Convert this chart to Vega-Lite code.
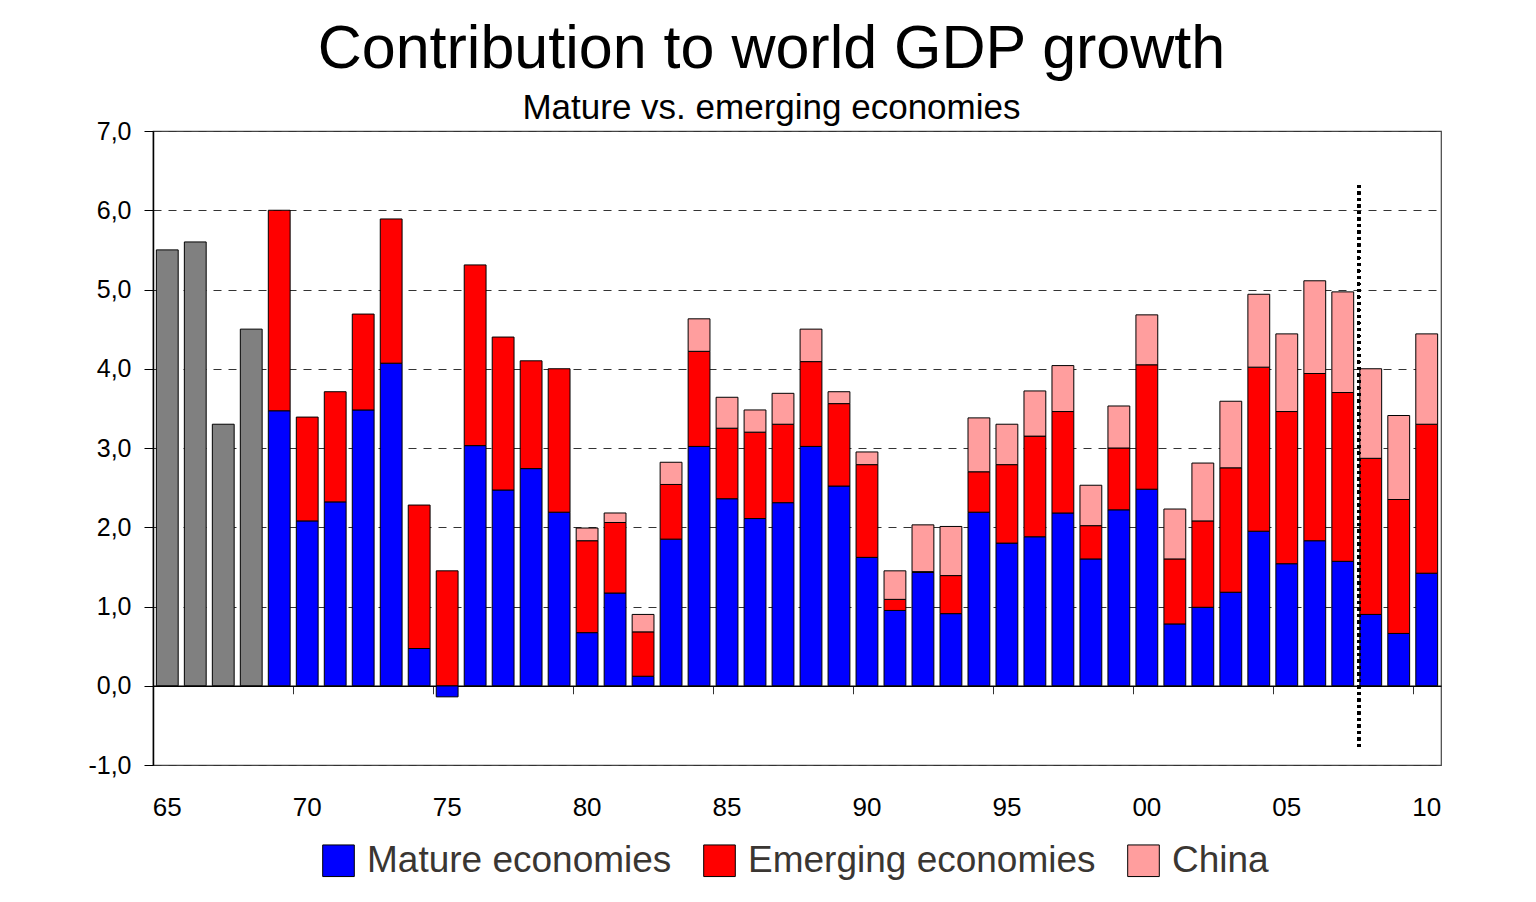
{
  "$schema": "https://vega.github.io/schema/vega-lite/v6.json",
  "width": 1288,
  "height": 634,
  "padding": {"left": 87, "top": 19, "right": 90, "bottom": 10},
  "background": "white",
  "title": {
    "text": "Contribution to world GDP growth",
    "subtitle": "Mature vs. emerging economies",
    "font": "Liberation Sans",
    "subtitleFont": "Liberation Sans",
    "fontSize": 61,
    "subtitleFontSize": 35,
    "fontWeight": "normal",
    "color": "black",
    "subtitleColor": "black",
    "subtitlePadding": 10,
    "anchor": "middle",
    "frame": "bounds",
    "offset": -8,
    "dx": 7
  },
  "data": {
    "values": [
      {"year": "1965", "series": "Total", "value": 5.50, "ord": 0},
      {"year": "1966", "series": "Total", "value": 5.60, "ord": 0},
      {"year": "1967", "series": "Total", "value": 3.30, "ord": 0},
      {"year": "1968", "series": "Total", "value": 4.50, "ord": 0},
      {"year": "1969", "series": "Mature economies", "value": 3.47, "ord": 1},
      {"year": "1969", "series": "Emerging economies", "value": 2.53, "ord": 2},
      {"year": "1970", "series": "Mature economies", "value": 2.08, "ord": 1},
      {"year": "1970", "series": "Emerging economies", "value": 1.31, "ord": 2},
      {"year": "1971", "series": "Mature economies", "value": 2.32, "ord": 1},
      {"year": "1971", "series": "Emerging economies", "value": 1.39, "ord": 2},
      {"year": "1972", "series": "Mature economies", "value": 3.48, "ord": 1},
      {"year": "1972", "series": "Emerging economies", "value": 1.21, "ord": 2},
      {"year": "1973", "series": "Mature economies", "value": 4.07, "ord": 1},
      {"year": "1973", "series": "Emerging economies", "value": 1.82, "ord": 2},
      {"year": "1974", "series": "Mature economies", "value": 0.47, "ord": 1},
      {"year": "1974", "series": "Emerging economies", "value": 1.81, "ord": 2},
      {"year": "1975", "series": "Mature economies", "value": -0.14, "ord": 1},
      {"year": "1975", "series": "Emerging economies", "value": 1.45, "ord": 2},
      {"year": "1976", "series": "Mature economies", "value": 3.03, "ord": 1},
      {"year": "1976", "series": "Emerging economies", "value": 2.28, "ord": 2},
      {"year": "1977", "series": "Mature economies", "value": 2.47, "ord": 1},
      {"year": "1977", "series": "Emerging economies", "value": 1.93, "ord": 2},
      {"year": "1978", "series": "Mature economies", "value": 2.74, "ord": 1},
      {"year": "1978", "series": "Emerging economies", "value": 1.36, "ord": 2},
      {"year": "1979", "series": "Mature economies", "value": 2.19, "ord": 1},
      {"year": "1979", "series": "Emerging economies", "value": 1.81, "ord": 2},
      {"year": "1980", "series": "Mature economies", "value": 0.67, "ord": 1},
      {"year": "1980", "series": "Emerging economies", "value": 1.16, "ord": 2},
      {"year": "1980", "series": "China", "value": 0.16, "ord": 3},
      {"year": "1981", "series": "Mature economies", "value": 1.17, "ord": 1},
      {"year": "1981", "series": "Emerging economies", "value": 0.89, "ord": 2},
      {"year": "1981", "series": "China", "value": 0.12, "ord": 3},
      {"year": "1982", "series": "Mature economies", "value": 0.12, "ord": 1},
      {"year": "1982", "series": "Emerging economies", "value": 0.56, "ord": 2},
      {"year": "1982", "series": "China", "value": 0.22, "ord": 3},
      {"year": "1983", "series": "Mature economies", "value": 1.85, "ord": 1},
      {"year": "1983", "series": "Emerging economies", "value": 0.69, "ord": 2},
      {"year": "1983", "series": "China", "value": 0.28, "ord": 3},
      {"year": "1984", "series": "Mature economies", "value": 3.02, "ord": 1},
      {"year": "1984", "series": "Emerging economies", "value": 1.20, "ord": 2},
      {"year": "1984", "series": "China", "value": 0.41, "ord": 3},
      {"year": "1985", "series": "Mature economies", "value": 2.36, "ord": 1},
      {"year": "1985", "series": "Emerging economies", "value": 0.89, "ord": 2},
      {"year": "1985", "series": "China", "value": 0.39, "ord": 3},
      {"year": "1986", "series": "Mature economies", "value": 2.11, "ord": 1},
      {"year": "1986", "series": "Emerging economies", "value": 1.09, "ord": 2},
      {"year": "1986", "series": "China", "value": 0.28, "ord": 3},
      {"year": "1987", "series": "Mature economies", "value": 2.31, "ord": 1},
      {"year": "1987", "series": "Emerging economies", "value": 0.99, "ord": 2},
      {"year": "1987", "series": "China", "value": 0.39, "ord": 3},
      {"year": "1988", "series": "Mature economies", "value": 3.02, "ord": 1},
      {"year": "1988", "series": "Emerging economies", "value": 1.07, "ord": 2},
      {"year": "1988", "series": "China", "value": 0.41, "ord": 3},
      {"year": "1989", "series": "Mature economies", "value": 2.52, "ord": 1},
      {"year": "1989", "series": "Emerging economies", "value": 1.04, "ord": 2},
      {"year": "1989", "series": "China", "value": 0.15, "ord": 3},
      {"year": "1990", "series": "Mature economies", "value": 1.62, "ord": 1},
      {"year": "1990", "series": "Emerging economies", "value": 1.17, "ord": 2},
      {"year": "1990", "series": "China", "value": 0.16, "ord": 3},
      {"year": "1991", "series": "Mature economies", "value": 0.95, "ord": 1},
      {"year": "1991", "series": "Emerging economies", "value": 0.14, "ord": 2},
      {"year": "1991", "series": "China", "value": 0.36, "ord": 3},
      {"year": "1992", "series": "Mature economies", "value": 1.43, "ord": 1},
      {"year": "1992", "series": "Emerging economies", "value": 0.01, "ord": 2},
      {"year": "1992", "series": "China", "value": 0.59, "ord": 3},
      {"year": "1993", "series": "Mature economies", "value": 0.91, "ord": 1},
      {"year": "1993", "series": "Emerging economies", "value": 0.48, "ord": 2},
      {"year": "1993", "series": "China", "value": 0.62, "ord": 3},
      {"year": "1994", "series": "Mature economies", "value": 2.19, "ord": 1},
      {"year": "1994", "series": "Emerging economies", "value": 0.51, "ord": 2},
      {"year": "1994", "series": "China", "value": 0.68, "ord": 3},
      {"year": "1995", "series": "Mature economies", "value": 1.80, "ord": 1},
      {"year": "1995", "series": "Emerging economies", "value": 0.99, "ord": 2},
      {"year": "1995", "series": "China", "value": 0.51, "ord": 3},
      {"year": "1996", "series": "Mature economies", "value": 1.88, "ord": 1},
      {"year": "1996", "series": "Emerging economies", "value": 1.27, "ord": 2},
      {"year": "1996", "series": "China", "value": 0.57, "ord": 3},
      {"year": "1997", "series": "Mature economies", "value": 2.18, "ord": 1},
      {"year": "1997", "series": "Emerging economies", "value": 1.28, "ord": 2},
      {"year": "1997", "series": "China", "value": 0.58, "ord": 3},
      {"year": "1998", "series": "Mature economies", "value": 1.60, "ord": 1},
      {"year": "1998", "series": "Emerging economies", "value": 0.42, "ord": 2},
      {"year": "1998", "series": "China", "value": 0.51, "ord": 3},
      {"year": "1999", "series": "Mature economies", "value": 2.22, "ord": 1},
      {"year": "1999", "series": "Emerging economies", "value": 0.78, "ord": 2},
      {"year": "1999", "series": "China", "value": 0.53, "ord": 3},
      {"year": "2000", "series": "Mature economies", "value": 2.48, "ord": 1},
      {"year": "2000", "series": "Emerging economies", "value": 1.57, "ord": 2},
      {"year": "2000", "series": "China", "value": 0.63, "ord": 3},
      {"year": "2001", "series": "Mature economies", "value": 0.78, "ord": 1},
      {"year": "2001", "series": "Emerging economies", "value": 0.82, "ord": 2},
      {"year": "2001", "series": "China", "value": 0.63, "ord": 3},
      {"year": "2002", "series": "Mature economies", "value": 0.99, "ord": 1},
      {"year": "2002", "series": "Emerging economies", "value": 1.09, "ord": 2},
      {"year": "2002", "series": "China", "value": 0.73, "ord": 3},
      {"year": "2003", "series": "Mature economies", "value": 1.18, "ord": 1},
      {"year": "2003", "series": "Emerging economies", "value": 1.57, "ord": 2},
      {"year": "2003", "series": "China", "value": 0.84, "ord": 3},
      {"year": "2004", "series": "Mature economies", "value": 1.95, "ord": 1},
      {"year": "2004", "series": "Emerging economies", "value": 2.07, "ord": 2},
      {"year": "2004", "series": "China", "value": 0.92, "ord": 3},
      {"year": "2005", "series": "Mature economies", "value": 1.54, "ord": 1},
      {"year": "2005", "series": "Emerging economies", "value": 1.92, "ord": 2},
      {"year": "2005", "series": "China", "value": 0.98, "ord": 3},
      {"year": "2006", "series": "Mature economies", "value": 1.83, "ord": 1},
      {"year": "2006", "series": "Emerging economies", "value": 2.11, "ord": 2},
      {"year": "2006", "series": "China", "value": 1.17, "ord": 3},
      {"year": "2007", "series": "Mature economies", "value": 1.57, "ord": 1},
      {"year": "2007", "series": "Emerging economies", "value": 2.13, "ord": 2},
      {"year": "2007", "series": "China", "value": 1.27, "ord": 3},
      {"year": "2008", "series": "Mature economies", "value": 0.90, "ord": 1},
      {"year": "2008", "series": "Emerging economies", "value": 1.97, "ord": 2},
      {"year": "2008", "series": "China", "value": 1.13, "ord": 3},
      {"year": "2009", "series": "Mature economies", "value": 0.66, "ord": 1},
      {"year": "2009", "series": "Emerging economies", "value": 1.69, "ord": 2},
      {"year": "2009", "series": "China", "value": 1.06, "ord": 3},
      {"year": "2010", "series": "Mature economies", "value": 1.42, "ord": 1},
      {"year": "2010", "series": "Emerging economies", "value": 1.88, "ord": 2},
      {"year": "2010", "series": "China", "value": 1.14, "ord": 3}
    ]
  },
  "layer": [
    {
      "mark": {"type": "bar", "stroke": "black", "strokeWidth": 1, "opacity": 1},
      "encoding": {
        "x": {
          "field": "year",
          "type": "ordinal",
          "scale": {"paddingInner": 0.22, "paddingOuter": 0.12},
          "axis": {
            "title": null,
            "values": ["1965", "1970", "1975", "1980", "1985", "1990", "1995", "2000", "2005", "2010"],
            "labelExpr": "substring(datum.label, 2)",
            "labelAngle": 0,
            "bandPosition": -0.12,
            "offset": -79.25,
            "domainColor": "black",
            "domainWidth": 1.5,
            "tickColor": "#333",
            "tickSize": 8,
            "labelOffset": 0,
            "labelPadding": 101,
            "labelFont": "Liberation Sans",
            "labelFontSize": 26,
            "labelColor": "black",
            "grid": false
          }
        },
        "y": {
          "field": "value",
          "type": "quantitative",
          "stack": "zero",
          "scale": {"domain": [-1, 7], "nice": false},
          "axis": {
            "title": null,
            "values": [-1, 0, 1, 2, 3, 4, 5, 6, 7],
            "labelExpr": "replace(replace(format(datum.value, '.1f'), '.', ','), '\u2212', '-')",
            "labelFont": "Liberation Sans",
            "labelFontSize": 25,
            "labelColor": "black",
            "labelPadding": 13,
            "tickSize": 9,
            "tickColor": "black",
            "domainColor": "black",
            "domainWidth": 1.5,
            "grid": true,
            "gridDash": [8, 7],
            "gridColor": "#333",
            "gridWidth": 1
          }
        },
        "color": {
          "field": "series",
          "type": "nominal",
          "scale": {
            "domain": ["Mature economies", "Emerging economies", "China", "Total"],
            "range": ["#0000ff", "#ff0000", "#ff9e9e", "#808080"]
          },
          "legend": {
            "title": null,
            "values": ["Mature economies", "Emerging economies", "China"],
            "orient": "none",
            "legendX": 167,
            "legendY": 711,
            "direction": "horizontal",
            "symbolType": "square",
            "symbolSize": 1000,
            "symbolStrokeColor": "black",
            "symbolStrokeWidth": 1,
            "symbolOpacity": 1,
            "labelFont": "Liberation Sans",
            "labelFontSize": 37,
            "labelColor": "#3a3632",
            "labelLimit": 0,
            "labelOffset": 10,
            "columnPadding": 29
          }
        },
        "order": {"field": "ord", "type": "quantitative"}
      }
    },
    {
      "mark": {"type": "rule", "color": "black", "strokeWidth": 3, "strokeDash": [3, 3.5]},
      "encoding": {
        "x": {"datum": "2008", "type": "ordinal", "bandPosition": -0.06},
        "y": {"datum": 6.32, "type": "quantitative"},
        "y2": {"datum": -0.81}
      }
    }
  ],
  "config": {
    "view": {"stroke": "#444", "strokeWidth": 1.2},
    "font": "Liberation Sans"
  }
}
